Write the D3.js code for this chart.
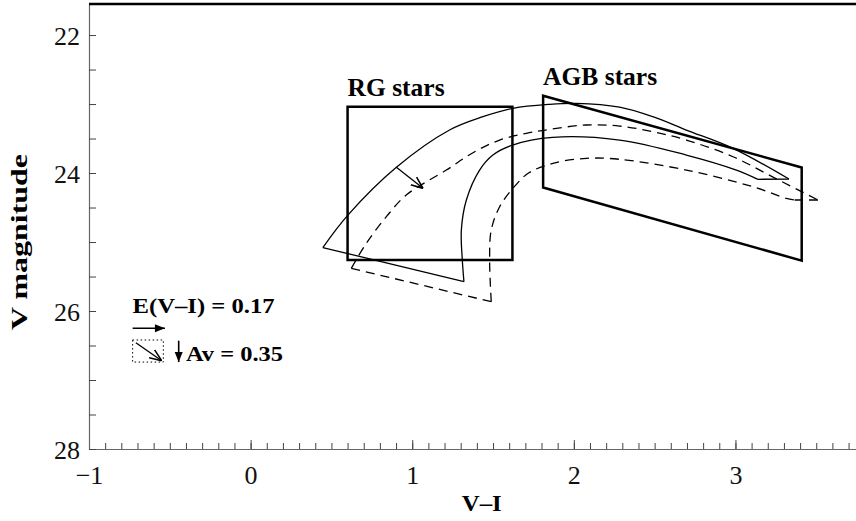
<!DOCTYPE html>
<html lang="en">
  <head>
    <meta charset="utf-8">
    <title>CMD reddening boxes</title>
    <script src="https://d3js.org/d3.v7.min.js"></script>
    <style>
      body { margin: 0; background: #fff; }
      svg text { font-family: "Liberation Serif", "Times New Roman", Tinos, Times, "DejaVu Serif", serif; }
      .tick text { font-size: 26px; fill: #111; }
      .lbl { font-weight: bold; fill: #000; }
    </style>
  </head>
  <body>
    <svg width="856" height="521"></svg>
    <script type="text/javascript">
      // values, in (V-I, V) units
      var solidOuter = [[0.447,25.08],[0.602,24.61],[0.902,23.917],[1.231,23.377],[1.438,23.184],
                        [1.623,23.062],[1.850,23.004],[2.015,22.990],[2.283,23.045],[2.489,23.184],
                        [2.696,23.377],[2.985,23.642],[3.331,24.087]];
      var solidInner = [[1.320,25.575],[1.310,25.261],[1.304,24.826],[1.335,24.391],[1.417,23.957],
                        [1.499,23.739],[1.621,23.594],[1.869,23.483],[2.283,23.522],[2.696,23.739],
                        [3.006,23.957],[3.139,24.091]];
      var dashedOuter = [[0.623,25.381],[0.716,25.019],[0.840,24.633],[0.963,24.319],[1.211,23.957],
                         [1.376,23.706],[1.541,23.522],[1.706,23.425],[1.850,23.367],[2.077,23.304],
                         [2.283,23.319],[2.488,23.401],[2.696,23.522],[2.985,23.764],[3.25,24.08],
                         [3.511,24.391]];
      var dashedInner = [[1.489,25.865],[1.479,25.261],[1.489,24.826],[1.541,24.488],[1.623,24.222],
                         [1.72,24.0],[1.871,23.859],[2.077,23.787],[2.283,23.801],[2.696,23.957],
                         [3.108,24.199],[3.315,24.367],[3.366,24.391]];
      var rgBox = [[0.60,23.04],[1.62,23.04],[1.62,25.26],[0.60,25.26]];
      var agbBox = [[1.81,22.88],[3.41,23.92],[3.41,25.27],[1.81,24.21]];
      var shiftArrow = [[0.902,23.917],[1.067,24.222]];
      var boxLabels = [{text: "RG stars", x: 0.6, y: 22.88, w: 97}, {text: "AGB stars", x: 1.81, y: 22.73, w: 114}];
      var xMajor = [-1, 0, 1, 2, 3];
      var yMajor = [22, 24, 26, 28];
      var EVI = 0.17, AV = 0.35;

      var svg = d3.select("svg");

      var x = d3.scaleLinear().domain([-1, 3.746]).range([89, 856]);
      var y = d3.scaleLinear().domain([21.55, 28]).range([4, 449]);

      var line = d3.line().x(function(d) { return x(d[0]); }).y(function(d) { return y(d[1]); });
      var smooth = d3.line().curve(d3.curveCatmullRom.alpha(0.5))
          .x(function(d) { return x(d[0]); }).y(function(d) { return y(d[1]); });

      svg.append("defs").append("marker")
          .attr("id", "open").attr("viewBox", "0 0 10 10")
          .attr("refX", 10).attr("refY", 5)
          .attr("markerWidth", 12).attr("markerHeight", 12)
          .attr("markerUnits", "userSpaceOnUse")
          .attr("orient", "auto")
        .append("path").attr("d", "M0,1 L10,5 L0,9").attr("fill", "none").attr("stroke", "#000").attr("stroke-width", 1.3);
      svg.select("defs").append("marker")
          .attr("id", "solid").attr("viewBox", "0 0 10 10")
          .attr("refX", 10).attr("refY", 5)
          .attr("markerWidth", 13).attr("markerHeight", 10)
          .attr("markerUnits", "userSpaceOnUse")
          .attr("orient", "auto")
        .append("path").attr("d", "M0,1 L10,5 L0,9 Z").attr("fill", "#000");

      // axes
      var xMinor = svg.append("g").attr("transform", "translate(0," + y(28) + ")")
          .call(d3.axisBottom(x).tickValues(d3.range(-9, 38).map(function(i) { return i / 10; }))
                .tickSize(-6).tickSizeOuter(0).tickFormat(""));
      var xAxis = svg.append("g").attr("transform", "translate(0," + y(28) + ")")
          .call(d3.axisBottom(x).tickValues(xMajor).tickSize(-9).tickSizeOuter(0).tickPadding(17)
                .tickFormat(function(d) { return d < 0 ? "\u2212" + (-d) : d; }));
      var yAxis = svg.append("g").attr("transform", "translate(" + x(-1) + ",0)")
          .call(d3.axisLeft(y).tickValues(d3.range(22, 28.01, 0.5)).tickSize(-7).tickSizeOuter(0).tickPadding(9)
                .tickFormat(function(d) { return yMajor.indexOf(d) >= 0 ? d : ""; }));
      svg.selectAll("g").attr("font-family", null);
      svg.selectAll(".domain").attr("stroke", "#666").attr("stroke-width", 1.2);
      svg.selectAll(".tick line").attr("stroke", "#444").attr("stroke-width", 1);
      yAxis.selectAll(".tick text").attr("dy", "0.35em");

      svg.append("line")
          .attr("x1", x(-1)).attr("x2", 856).attr("y1", y(21.55)).attr("y2", y(21.55))
          .attr("stroke", "#000").attr("stroke-width", 2.5);

      svg.append("text").attr("class", "lbl").attr("font-size", 24)
          .attr("x", x(1.43)).attr("y", 511).attr("text-anchor", "middle")
          .attr("textLength", 40).attr("lengthAdjust", "spacingAndGlyphs").text("V\u2013I");
      svg.append("text").attr("class", "lbl").attr("font-size", 24)
          .attr("transform", "translate(27," + y(25.0) + ") rotate(-90)")
          .attr("text-anchor", "middle")
          .attr("textLength", 176).attr("lengthAdjust", "spacingAndGlyphs").text("V magnitude");

      // model curves
      var plot = svg.append("g").attr("fill", "none").attr("stroke", "#000");
      plot.append("path").attr("d", smooth(solidOuter)).attr("stroke-width", 1.3);
      plot.append("path").attr("d", smooth(solidInner)).attr("stroke-width", 1.3);
      plot.append("path").attr("d", line([solidOuter[0], solidInner[0]])).attr("stroke-width", 1.3);
      plot.append("path").attr("d", line([solidOuter[solidOuter.length - 1], solidInner[solidInner.length - 1]])).attr("stroke-width", 1.3);

      plot.append("path").attr("d", smooth(dashedOuter)).attr("stroke-width", 1.3).attr("stroke-dasharray", "9,6");
      plot.append("path").attr("d", smooth(dashedInner)).attr("stroke-width", 1.3).attr("stroke-dasharray", "9,6");
      plot.append("path").attr("d", line([dashedOuter[0], dashedInner[0]])).attr("stroke-width", 1.3).attr("stroke-dasharray", "9,6");
      plot.append("path").attr("d", line([dashedOuter[dashedOuter.length - 1], dashedInner[dashedInner.length - 1]])).attr("stroke-width", 1.3).attr("stroke-dasharray", "9,6");

      plot.append("path").attr("d", line(shiftArrow)).attr("stroke-width", 1.3).attr("marker-end", "url(#open)");

      // selection boxes
      plot.append("path").attr("d", line(rgBox) + "Z").attr("stroke-width", 2.5);
      plot.append("path").attr("d", line(agbBox) + "Z").attr("stroke-width", 2.5);

      svg.selectAll(".boxlbl").data(boxLabels).enter().append("text")
          .attr("class", "lbl").attr("font-size", 25)
          .attr("x", function(d) { return x(d.x); }).attr("y", function(d) { return y(d.y); })
          .attr("textLength", function(d) { return d.w; }).attr("lengthAdjust", "spacingAndGlyphs")
          .text(function(d) { return d.text; });

      // reddening legend
      var lx = -0.73, ly = 26.03;
      svg.append("text").attr("class", "lbl").attr("font-size", 22)
          .attr("x", x(lx)).attr("y", y(ly))
          .attr("textLength", 142).attr("lengthAdjust", "spacingAndGlyphs").text("E(V\u2013I) = " + EVI);
      svg.append("line")
          .attr("x1", x(lx)).attr("x2", x(lx + 0.2)).attr("y1", y(ly + 0.22)).attr("y2", y(ly + 0.22))
          .attr("stroke", "#000").attr("stroke-width", 1.6).attr("marker-end", "url(#solid)");
      svg.append("rect")
          .attr("x", x(lx)).attr("y", y(ly + 0.39))
          .attr("width", x(lx + 0.19) - x(lx)).attr("height", y(ly + 0.71) - y(ly + 0.39))
          .attr("fill", "none").attr("stroke", "#000").attr("stroke-width", 1).attr("stroke-dasharray", "1.5,2.5");
      svg.append("line")
          .attr("x1", x(lx + 0.02)).attr("y1", y(ly + 0.43))
          .attr("x2", x(lx + 0.18)).attr("y2", y(ly + 0.69))
          .attr("stroke", "#000").attr("stroke-width", 1.3).attr("marker-end", "url(#open)");
      svg.append("line")
          .attr("x1", x(lx + 0.285)).attr("x2", x(lx + 0.285)).attr("y1", y(ly + 0.4)).attr("y2", y(ly + 0.71))
          .attr("stroke", "#000").attr("stroke-width", 1.6).attr("marker-end", "url(#solid)");
      svg.append("text").attr("class", "lbl").attr("font-size", 22)
          .attr("x", x(lx + 0.33)).attr("y", y(ly + 0.7))
          .attr("textLength", 97).attr("lengthAdjust", "spacingAndGlyphs").text("Av = " + AV);
    </script>
  </body>
</html>
